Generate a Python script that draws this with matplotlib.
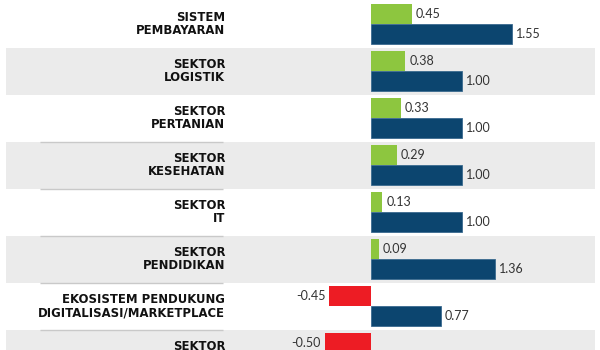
import matplotlib
matplotlib.use('Agg')
import matplotlib.pyplot as plt
import numpy as np

# --- data ---
categories = [
    "SISTEM\nPEMBAYARAN",
    "SEKTOR\nLOGISTIK",
    "SEKTOR\nPERTANIAN",
    "SEKTOR\nKESEHATAN",
    "SEKTOR\nIT",
    "SEKTOR\nPENDIDIKAN",
    "EKOSISTEM PENDUKUNG\nDIGITALISASI/MARKETPLACE",
    "SEKTOR\n ",
]
change_values = [0.45, 0.38, 0.33, 0.29, 0.13, 0.09, -0.45, -0.50]
base_values = [1.55, 1.00, 1.00, 1.00, 1.00, 1.36, 0.77, np.nan]

GREEN = '#8dc63f'
RED = '#ed1c24'
BLUE = '#0c456f'
BAND = '#ebebeb'
TEXT = '#333333'

W, H = 600, 350
ZERO_PX = 370.5      # x pixel of value 0
PX_PER_UNIT = 91.5
ROW0_PX = 24         # y pixel of first row centre
ROW_PX = 47

fig = plt.figure(figsize=(W / 100, H / 100), dpi=100)
fig.patch.set_facecolor('white')
ax = fig.add_axes([0, 0, 1, 1])
ax.set_xlim(-ZERO_PX / PX_PER_UNIT, (W - ZERO_PX) / PX_PER_UNIT)
ax.set_ylim((H - ROW0_PX) / ROW_PX, -ROW0_PX / ROW_PX)
ax.axis('off')

y = np.arange(len(categories))

# alternating grey bands
for i in y[1::2]:
    ax.axhspan(i - 0.5, i + 0.5, xmin=6 / W, xmax=595 / W,
               color=BAND, lw=0, zorder=0)

# thin separators under the labels
for b in np.arange(2.5, len(categories) - 0.5, 1.0):
    ax.plot([(40 - ZERO_PX) / PX_PER_UNIT, (223 - ZERO_PX) / PX_PER_UNIT],
            [b, b], color='#c9c9c9', lw=1, zorder=1, solid_capstyle='butt')

off = 10.2 / ROW_PX
bh = 19.5 / ROW_PX
top_colors = [GREEN if v >= 0 else RED for v in change_values]
ax.barh(y - off, change_values, height=bh, color=top_colors, zorder=2)
ax.barh(y + off, base_values, height=bh, color=BLUE,
        edgecolor='#3a6a8f', linewidth=0.6, zorder=2)

pad = 4 / PX_PER_UNIT
val_kw = dict(va='center', fontsize=9, color=TEXT, family='Lato')
for i, v in enumerate(change_values):
    if v >= 0:
        ax.text(v + pad, i - off, f"{v:.2f}", ha='left', **val_kw)
    else:
        ax.text(v - pad, i - off, f"{v:.2f}", ha='right', **val_kw)
for i, v in enumerate(base_values):
    if np.isnan(v):
        continue
    ax.text(v + pad, i + off, f"{v:.2f}", ha='left', **val_kw)

label_x = (225 - ZERO_PX) / PX_PER_UNIT
for i, name in enumerate(categories):
    ax.text(label_x, i, name, ha='right', va='center', fontsize=8.4,
            fontweight='bold', color='#111111', linespacing=1.0,
            family='DejaVu Sans')

fig.savefig('out.png', dpi=100)
